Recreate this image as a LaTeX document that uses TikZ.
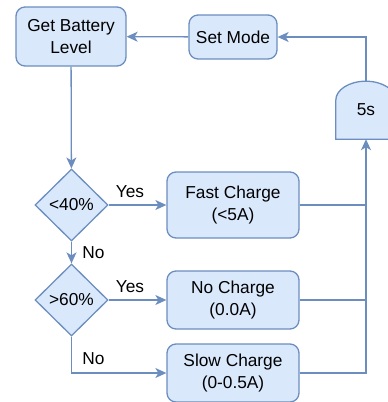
\documentclass[tikz,border=0pt]{standalone}
\usepackage{fontspec}
\setmainfont{Liberation Sans}
\usepackage{xcolor}
\definecolor{flowFill}{HTML}{DAE8FC}
\definecolor{flowLine}{HTML}{6C8EBF}
\usetikzlibrary{shapes.geometric, arrows.meta}
\tikzset{
  flowBox/.style={rectangle, rounded corners=9pt, draw=flowLine, fill=flowFill, line width=1.3pt, align=center, inner sep=0pt},
  flowCheck/.style={diamond, draw=flowLine, fill=flowFill, line width=1.3pt, inner sep=0pt, minimum width=73pt, minimum height=72pt},
  flowLink/.style={draw=flowLine, line width=1.3pt},
  flowArrow/.style={flowLink, -{Stealth[length=11pt, width=10pt, inset=3pt]}}
}

\begin{document}
\begin{tikzpicture}[font=\fontsize{17.3}{21.5}\selectfont, x=1pt, y=1pt]
  \useasboundingbox (0,0) rectangle (388,-402);
  \node[flowBox, minimum width=110pt, minimum height=59pt] (getLevel) at (71,-36.5) {Get Battery\\Level};
  \node[flowBox, minimum width=88pt, minimum height=44pt] (setMode) at (233,-37) {Set Mode};
  \node[minimum width=60pt, minimum height=58pt, inner sep=0pt] (delay) at (366,-110) {};
  \filldraw[fill=flowFill, draw=flowLine, line width=1.3pt] (delay.south west) -- ++(0,39)
    arc[start angle=180, end angle=0, x radius=30, y radius=19] -- (delay.south east) -- cycle;
  \node at (delay.center) {5s};
  \node[flowCheck] (lowCheck) at (71.5,-205) {<40\%};
  \node[flowCheck] (highCheck) at (71.5,-300) {>60\%};
  \node[flowBox, minimum width=132pt, minimum height=66pt] (fastCharge) at (233,-205) {Fast Charge\\(<5A)};
  \node[flowBox, minimum width=132pt, minimum height=58pt] (noCharge) at (233,-300) {No Charge\\(0.0A)};
  \node[flowBox, minimum width=132pt, minimum height=58pt] (slowCharge) at (233,-373) {Slow Charge\\(0-0.5A)};
  \draw[flowArrow] (getLevel) -- (lowCheck);
  \draw[flowArrow] (lowCheck) -- node[pos=0.37, above=3pt] {Yes} (fastCharge);
  \draw[flowArrow] (lowCheck) -- node[right=7pt] {No} (highCheck);
  \draw[flowArrow] (highCheck) -- node[pos=0.37, above=3pt] {Yes} (noCharge);
  \draw[flowArrow] (highCheck) |- node[pos=0.3, right=7pt] {No} (slowCharge);
  \draw[flowLink] (fastCharge) -- (fastCharge -| delay.south);
  \draw[flowLink] (noCharge) -- (noCharge -| delay.south);
  \draw[flowArrow] (slowCharge) -| (delay.south);
  \draw[flowArrow] (delay.north) |- (setMode);
  \draw[flowArrow] (setMode) -- (getLevel);
\end{tikzpicture}
\end{document}
